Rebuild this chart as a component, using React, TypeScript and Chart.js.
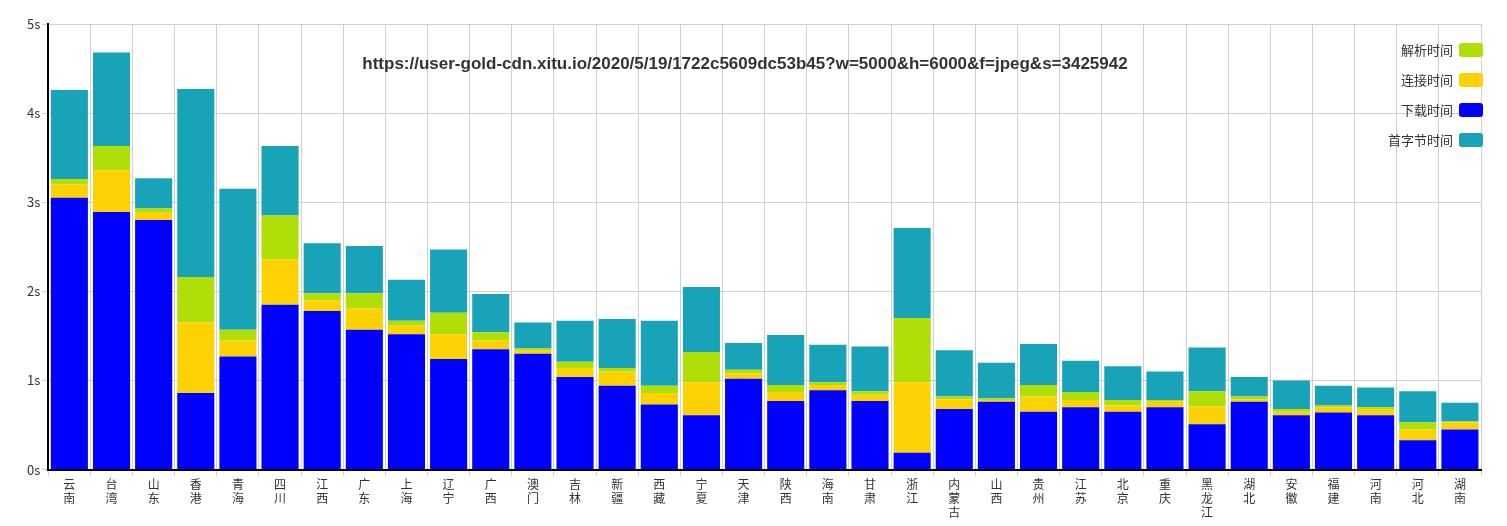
import React, { useEffect, useRef } from "react";
import { Chart, registerables } from "chart.js";
Chart.register(...registerables);

const categories = ["云南","台湾","山东","香港","青海","四川","江西","广东","上海","辽宁","广西","澳门","吉林","新疆","西藏","宁夏","天津","陕西","海南","甘肃","浙江","内蒙古","山西","贵州","江苏","北京","重庆","黑龙江","湖北","安徽","福建","河南","河北","湖南"];
const downloadTime = [3.05,2.89,2.80,0.86,1.27,1.85,1.78,1.57,1.52,1.24,1.35,1.30,1.04,0.94,0.73,0.61,1.02,0.77,0.89,0.77,0.19,0.68,0.76,0.65,0.70,0.65,0.70,0.51,0.76,0.61,0.64,0.61,0.33,0.45];
const connectTime = [0.15,0.47,0.09,0.79,0.18,0.51,0.12,0.24,0.10,0.28,0.10,0.04,0.10,0.16,0.13,0.37,0.06,0.10,0.06,0.07,0.79,0.11,0.02,0.17,0.08,0.07,0.06,0.20,0.03,0.04,0.06,0.07,0.12,0.08];
const parseTime = [0.06,0.27,0.04,0.51,0.12,0.49,0.08,0.17,0.05,0.24,0.09,0.02,0.07,0.04,0.08,0.34,0.04,0.08,0.03,0.04,0.72,0.03,0.02,0.13,0.09,0.06,0.02,0.17,0.03,0.03,0.02,0.02,0.08,0.01];
const firstByteTime = [1.00,1.05,0.34,2.11,1.58,0.78,0.56,0.53,0.46,0.71,0.43,0.29,0.46,0.55,0.73,0.73,0.30,0.56,0.42,0.50,1.01,0.52,0.40,0.46,0.35,0.38,0.32,0.49,0.22,0.32,0.22,0.22,0.35,0.21];
const yTicks = [0,1,2,3,4,5];
const watermark = "https://user-gold-cdn.xitu.io/2020/5/19/1722c5609dc53b45?w=5000&h=6000&f=jpeg&s=3425942";

const FONT = "'Noto Sans CJK SC', 'Noto Sans', sans-serif";
const legendItems = [
  { label: "解析时间", color: "#b0de09" },
  { label: "连接时间", color: "#fcd202" },
  { label: "下载时间", color: "#0000ff" },
  { label: "首字节时间", color: "#19a3b8" },
];

const overlay = {
  id: "overlay",
  afterDatasetsDraw(chart: any) {
    const { ctx, chartArea } = chart;
    ctx.save();
    ctx.font = "bold 17px 'Liberation Sans', Arial, sans-serif";
    ctx.fillStyle = "#333";
    ctx.textAlign = "center";
    ctx.textBaseline = "middle";
    ctx.fillText(watermark, 737, 60);
    ctx.font = "13px " + FONT;
    ctx.textAlign = "right";
    legendItems.forEach((it, i) => {
      const y = 46 + i * 30;
      const bx = chartArea.right - 22;
      ctx.fillStyle = "#333";
      ctx.fillText(it.label, bx - 6, y);
      ctx.fillStyle = it.color;
      ctx.beginPath();
      (ctx as any).roundRect(bx, y - 7, 24, 14, 3);
      ctx.fill();
    });
    ctx.restore();
  },
};

export default function App() {
  const ref = useRef<HTMLCanvasElement>(null);
  useEffect(() => {
    const mk = (label: string, data: number[], color: string) => ({ label, data, backgroundColor: color, borderWidth: 0, categoryPercentage: 0.88, barPercentage: 1 });
    const chart = new Chart(ref.current!, {
      type: "bar",
      data: {
        labels: categories.map((c) => c.split("")),
        datasets: [
          mk("下载时间", downloadTime, "#0000ff"),
          mk("连接时间", connectTime, "#fcd202"),
          mk("解析时间", parseTime, "#b0de09"),
          mk("首字节时间", firstByteTime, "#19a3b8"),
        ],
      },
      options: {
        animation: false,
        responsive: true,
        maintainAspectRatio: false,
        layout: { padding: { top: 20, right: 18, left: 17, bottom: 0 } },
        plugins: { legend: { display: false }, tooltip: { enabled: false } },
        scales: {
          x: {
            stacked: true,
            grid: { color: "#d0d0d0", offset: true, drawTicks: true, tickLength: 6 },
            border: { color: "#000", width: 2 },
            ticks: { color: "#333", font: { family: FONT, size: 12, lineHeight: 1.15 }, maxRotation: 0, autoSkip: false, padding: 2 },
          },
          y: {
            stacked: true,
            min: 0,
            max: 5,
            afterBuildTicks: (ax: any) => { ax.ticks = yTicks.map((v) => ({ value: v })); },
            grid: { color: "#d0d0d0", tickLength: 6 },
            border: { color: "#000", width: 2 },
            ticks: { color: "#333", font: { family: FONT, size: 13 }, callback: (v: any) => v + "s", padding: 2 },
          },
        },
      },
      plugins: [overlay],
    });
    return () => chart.destroy();
  }, []);
  return (
    <div style={{ width: 1491, height: 518, marginTop: -5, borderTop: "1px solid #e5e5e5", boxSizing: "border-box" }}>
      <canvas ref={ref} />
    </div>
  );
}
